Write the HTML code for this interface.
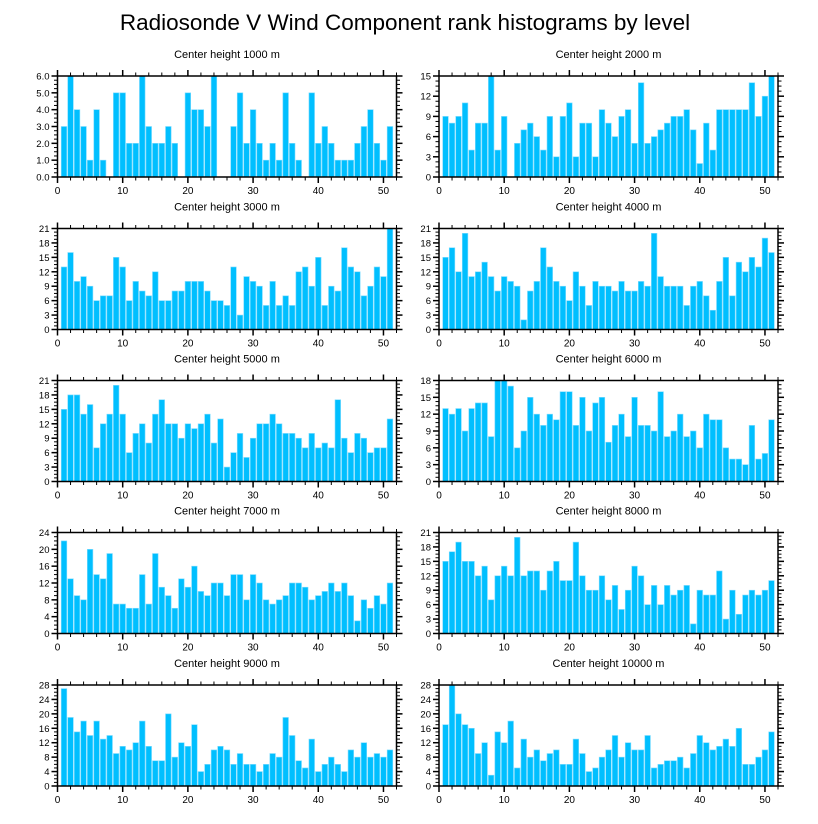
<!DOCTYPE html>
<html><head><meta charset="utf-8"><style>
body{margin:0;background:#fff;}
svg{display:block;font-family:"Liberation Sans",sans-serif;}
</style></head><body>
<svg id="chart" width="818" height="824">
<text x="405" y="30" font-size="22.5" text-anchor="middle">Radiosonde V Wind Component rank histograms by level</text>
</svg>
<script>
const levels = ["1000","2000","3000","4000","5000","6000","7000","8000","9000","10000"];
const yMax = [6,15,21,21,21,18,24,21,28,28];
const yStep = [1,3,3,3,3,3,4,3,4,4];
const h1000 = [3,6,4,3,1,4,1,0,5,5,2,2,6,3,2,2,3,2,0,5,4,4,3,6,0,0,3,5,2,4,2,1,2,1,5,2,1,0,5,2,3,2,1,1,1,2,3,4,2,1,3];
const h2000 = [9,8,9,11,4,8,8,15,4,9,0,5,7,8,6,4,9,3,9,11,3,8,8,3,10,8,6,9,10,5,14,5,6,7,8,9,9,10,7,2,8,4,10,10,10,10,10,14,9,12,15];
const h3000 = [13,16,10,11,9,6,7,7,15,13,6,10,8,7,12,6,6,8,8,10,10,10,8,6,6,5,13,3,11,10,9,5,10,5,7,5,12,13,9,15,5,9,8,17,13,12,7,9,13,11,21];
const h4000 = [15,17,12,20,11,12,14,11,8,11,10,9,2,8,10,17,13,10,9,6,12,9,5,10,9,9,8,10,8,8,10,9,20,11,9,9,9,5,9,10,7,4,10,15,7,14,12,15,13,19,16];
const h5000 = [15,18,18,14,16,7,12,14,20,14,6,10,12,8,14,17,12,12,9,12,11,12,14,8,13,3,6,10,5,9,12,12,14,12,10,10,9,7,10,7,8,7,17,9,6,10,9,6,7,7,13];
const h6000 = [13,12,13,9,13,14,14,8,18,18,17,6,9,15,12,10,12,11,16,16,10,15,9,14,15,7,10,12,8,15,10,10,9,16,8,9,12,8,9,6,12,11,11,6,4,4,3,10,4,5,11];
const h7000 = [22,13,9,8,20,14,13,19,7,7,6,6,14,7,19,11,9,6,13,11,16,10,9,12,12,9,14,14,8,14,12,8,7,8,9,12,12,11,8,9,10,12,10,12,9,3,8,6,9,7,12];
const h8000 = [15,17,19,15,15,12,14,7,12,14,12,20,12,13,13,9,13,15,11,11,19,12,9,9,12,7,10,5,9,14,12,6,10,6,10,8,9,10,2,9,8,8,13,3,9,4,8,9,8,9,11];
const h9000 = [27,19,15,18,14,18,13,14,9,11,10,12,18,11,7,7,20,8,12,11,17,4,6,10,11,10,6,9,6,6,4,6,9,8,19,14,7,5,13,4,6,8,6,4,10,8,12,8,9,8,10];
const h10000 = [17,28,20,17,16,9,12,3,15,12,18,5,13,8,10,7,9,10,6,6,13,9,4,5,8,10,14,8,12,10,10,14,5,6,7,7,8,5,9,14,12,10,11,13,11,16,6,6,8,10,15];
const series = [h1000,h2000,h3000,h4000,h5000,h6000,h7000,h8000,h9000,h10000];
const xTicks = [0,10,20,30,40,50];

const NS="http://www.w3.org/2000/svg";
const svg=document.getElementById('chart');
function mk(tag,attrs,parent){const e=document.createElementNS(NS,tag);for(const k in attrs)e.setAttribute(k,attrs[k]);(parent||svg).appendChild(e);return e;}
const colX=[57.5,439];const W=339;const H=101;
const rowY=[76,228.5,380.5,532.5,685];
series.forEach((data,p)=>{
  const L=colX[p%2], T=rowY[Math.floor(p/2)], B=T+H, R=L+W;
  const xs=v=>L+v/52*W;
  const ys=v=>B-v/yMax[p]*H;
  const g=mk('g',{});
  
  
  const t=mk('text',{x:(L+R)/2,y:T-18,'font-size':11,'text-anchor':'middle'},g);
  t.textContent='Center height '+levels[p]+' m';
  
  
  data.forEach((v,i)=>{
    const x0=xs(i+1-0.43), x1=xs(i+1+0.43);
    const r=mk('rect',{x:x0,y:ys(v),width:x1-x0,height:B-ys(v),fill:'#00bfff',stroke:'#7fdcff','stroke-width':0.6},g);
    
    
  });
  for(let v=0;v<=52;v+=2){
    const major=v%10===0, len=major?6:3.5;
    mk('line',{x1:xs(v),x2:xs(v),y1:B,y2:B+len,stroke:'#000','stroke-width':major?1.5:1},g);
    mk('line',{x1:xs(v),x2:xs(v),y1:T,y2:T-len,stroke:'#000','stroke-width':major?1.5:1},g);
  }
  xTicks.forEach(v=>{
    const tl=mk('text',{x:xs(v),y:B+17,'font-size':10,'text-anchor':'middle'},g);
    tl.textContent=v;
    
    
  });
  const st=yStep[p];
  for(let k=0;k<=yMax[p]/st*4+0.001;k++){
    const v=k*st/4, major=k%4===0, len=major?6:3.5;
    mk('line',{x1:L,x2:L-len,y1:ys(v),y2:ys(v),stroke:'#000','stroke-width':major?1.5:1},g);
    mk('line',{x1:R,x2:R+len,y1:ys(v),y2:ys(v),stroke:'#000','stroke-width':major?1.5:1},g);
    if(major){
      const yl=mk('text',{x:L-8,y:ys(v)+3.5,'font-size':9.5,'text-anchor':'end'},g);
      yl.textContent=p===0?v.toFixed(1):v;
      
      
    }
  }
  mk('rect',{x:L,y:T,width:W,height:H,fill:'none',stroke:'#000','stroke-width':1.5},g);
});
</script>
</body></html>
